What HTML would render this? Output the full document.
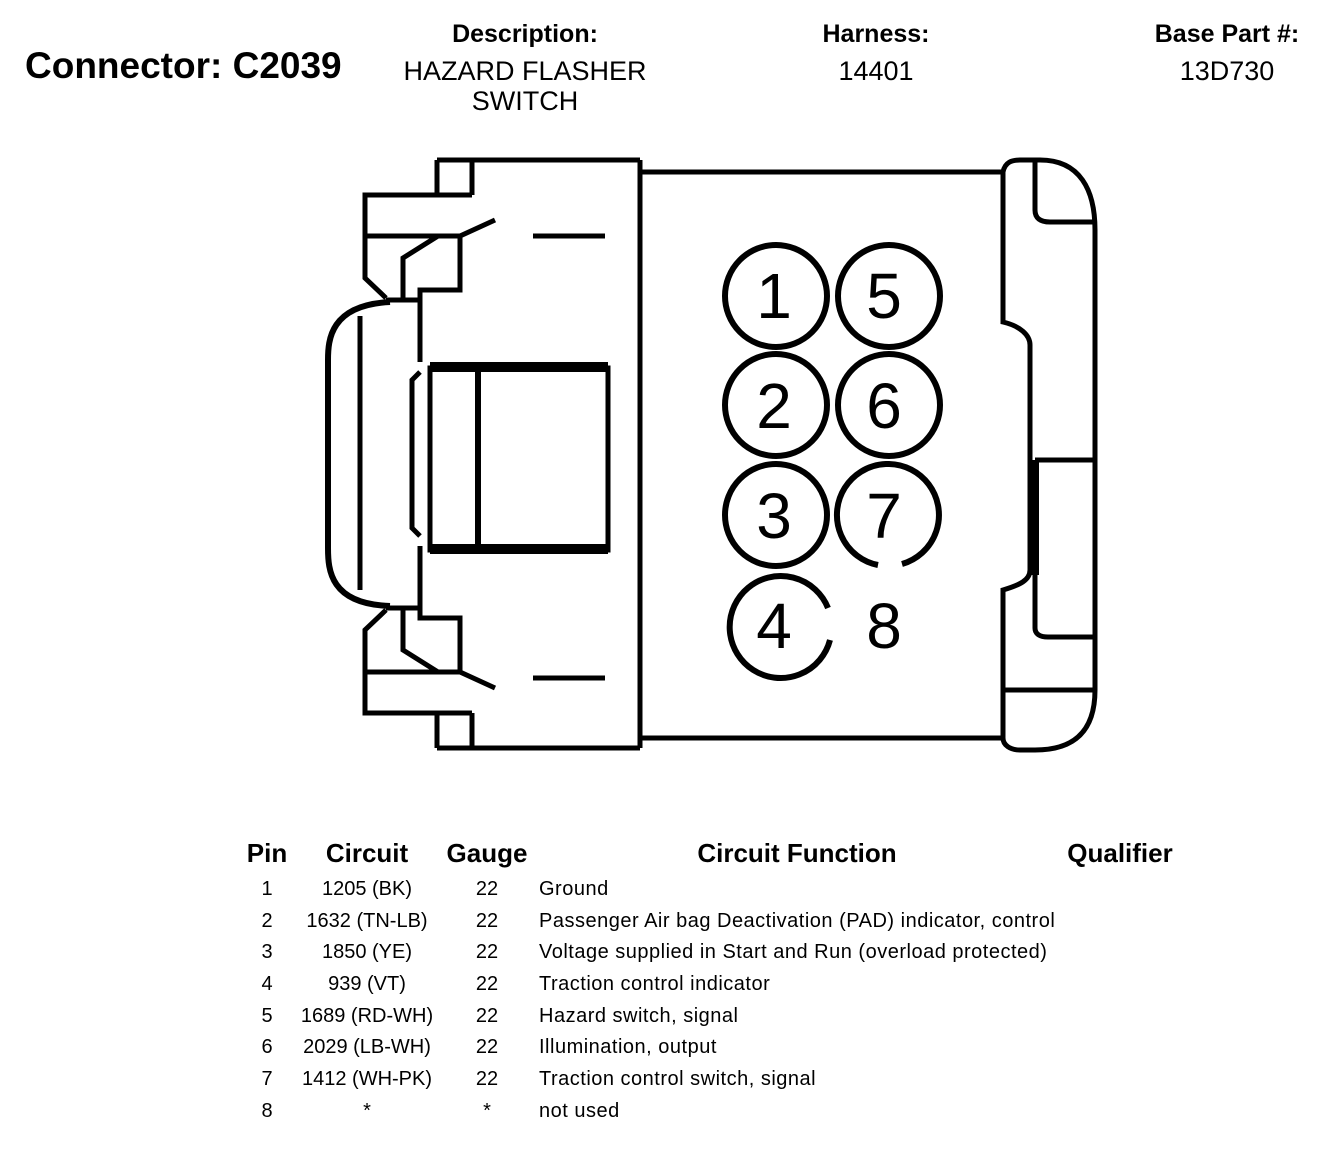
<!DOCTYPE html>
<html><head><meta charset="utf-8"><style>
html,body{margin:0;padding:0;background:#fff;}
svg{display:block;font-family:"Liberation Sans",Arial,sans-serif;}
</style></head><body>
<svg width="1344" height="1154" viewBox="0 0 1344 1154" xmlns="http://www.w3.org/2000/svg">
<g fill="#000">
<text x="25" y="78" font-size="37" font-weight="bold">Connector: C2039</text>
<text x="525" y="42" font-size="25" font-weight="bold" text-anchor="middle">Description:</text>
<text x="525" y="80" font-size="27" text-anchor="middle">HAZARD FLASHER</text>
<text x="525" y="110" font-size="27" text-anchor="middle">SWITCH</text>
<text x="876" y="42" font-size="25" font-weight="bold" text-anchor="middle">Harness:</text>
<text x="876" y="80" font-size="27" text-anchor="middle">14401</text>
<text x="1227" y="42" font-size="25" font-weight="bold" text-anchor="middle">Base Part #:</text>
<text x="1227" y="80" font-size="27" text-anchor="middle">13D730</text>
</g>
<g fill="none" stroke="#000" stroke-width="5" stroke-linejoin="miter">
<path d="M437 160 H640 M437 748 H640"/>
<path d="M437 160 V195 M472 160 V195 M437 748 V713 M472 748 V713"/>
<path d="M472 195 H365 V278 L386 298 M472 713 H365 V630 L386 610"/>
<path d="M365 236 H460 L495 220 M365 672 H460 L495 688"/>
<path d="M460 236 V290 H420 V362 M460 672 V618 H420 V546"/>
<path d="M403 298 V258 L438 236 M403 610 V650 L438 672"/>
<path d="M386 300 H420 M386 608 H420"/>
<path d="M390 302 C330 305 328 340 328 360 V548 C328 570 330 604 390 606" stroke-width="6"/>
<path d="M360 316 V590"/>
<path d="M420 372 L412 380 V528 L420 536"/>
<line x1="533" y1="236" x2="605" y2="236"/>
<line x1="533" y1="678" x2="605" y2="678"/>
<path d="M640 160 V748"/>
<path d="M640 172 H1003 V322 C1020 326 1030 335 1030 345 V570 C1030 580 1020 585 1003 590 V738 H640"/>
<path d="M1003 172 C1005 162 1012 160 1020 160 H1040 C1080 160 1095 190 1095 230 V690 C1095 735 1070 750 1035 750 H1020 C1010 750 1003 745 1003 738"/>
<path d="M1035 160 V210 C1035 218 1040 222 1050 222 H1093"/>
<path d="M1035 460 H1093"/>
<path d="M1035 460 V628 C1035 634 1040 637 1048 637 H1093"/>
<path d="M1003 690 H1093"/>
</g>
<rect x="1030" y="460" width="9" height="115" fill="#000"/>
<rect x="430" y="368" width="178" height="182" fill="none" stroke="#000" stroke-width="5"/>
<rect x="430" y="362" width="178" height="10" fill="#000"/>
<rect x="430" y="544" width="178" height="10" fill="#000"/>
<line x1="478" y1="368" x2="478" y2="550" stroke="#000" stroke-width="6"/>
<g fill="none" stroke="#000" stroke-width="6">
<circle cx="776" cy="296" r="51"/>
<circle cx="889" cy="296" r="51"/>
<circle cx="776" cy="405" r="51"/>
<circle cx="889" cy="405" r="51"/>
<circle cx="776" cy="515" r="51"/>
<path d="M878 565 A51 51 0 1 1 902 564"/>
<path d="M828 608 A51 51 0 1 0 830 640"/>
</g>
<g font-size="64" text-anchor="middle" fill="#000">
<text x="774" y="318">1</text><text x="884" y="318">5</text>
<text x="774" y="428">2</text><text x="884" y="428">6</text>
<text x="774" y="538">3</text><text x="884" y="538">7</text>
<text x="774" y="648">4</text><text x="884" y="648">8</text>
</g>
<g font-size="26" font-weight="bold" fill="#000" text-anchor="middle">
<text x="267" y="862">Pin</text><text x="367" y="862">Circuit</text><text x="487" y="862">Gauge</text>
<text x="797" y="862">Circuit Function</text><text x="1120" y="862">Qualifier</text>
</g>
<g font-size="20" fill="#000">
<g text-anchor="middle">
<text x="267" y="895">1</text><text x="367" y="895">1205 (BK)</text><text x="487" y="895">22</text>
<text x="267" y="927">2</text><text x="367" y="927">1632 (TN-LB)</text><text x="487" y="927">22</text>
<text x="267" y="958">3</text><text x="367" y="958">1850 (YE)</text><text x="487" y="958">22</text>
<text x="267" y="990">4</text><text x="367" y="990">939 (VT)</text><text x="487" y="990">22</text>
<text x="267" y="1022">5</text><text x="367" y="1022">1689 (RD-WH)</text><text x="487" y="1022">22</text>
<text x="267" y="1053">6</text><text x="367" y="1053">2029 (LB-WH)</text><text x="487" y="1053">22</text>
<text x="267" y="1085">7</text><text x="367" y="1085">1412 (WH-PK)</text><text x="487" y="1085">22</text>
<text x="267" y="1117">8</text><text x="367" y="1117">*</text><text x="487" y="1117">*</text>
</g>
<g letter-spacing="0.5">
<text x="539" y="895">Ground</text>
<text x="539" y="927">Passenger Air bag Deactivation (PAD) indicator, control</text>
<text x="539" y="958">Voltage supplied in Start and Run (overload protected)</text>
<text x="539" y="990">Traction control indicator</text>
<text x="539" y="1022">Hazard switch, signal</text>
<text x="539" y="1053">Illumination, output</text>
<text x="539" y="1085">Traction control switch, signal</text>
<text x="539" y="1117">not used</text>
</g>
</g>
</svg>
</body></html>
